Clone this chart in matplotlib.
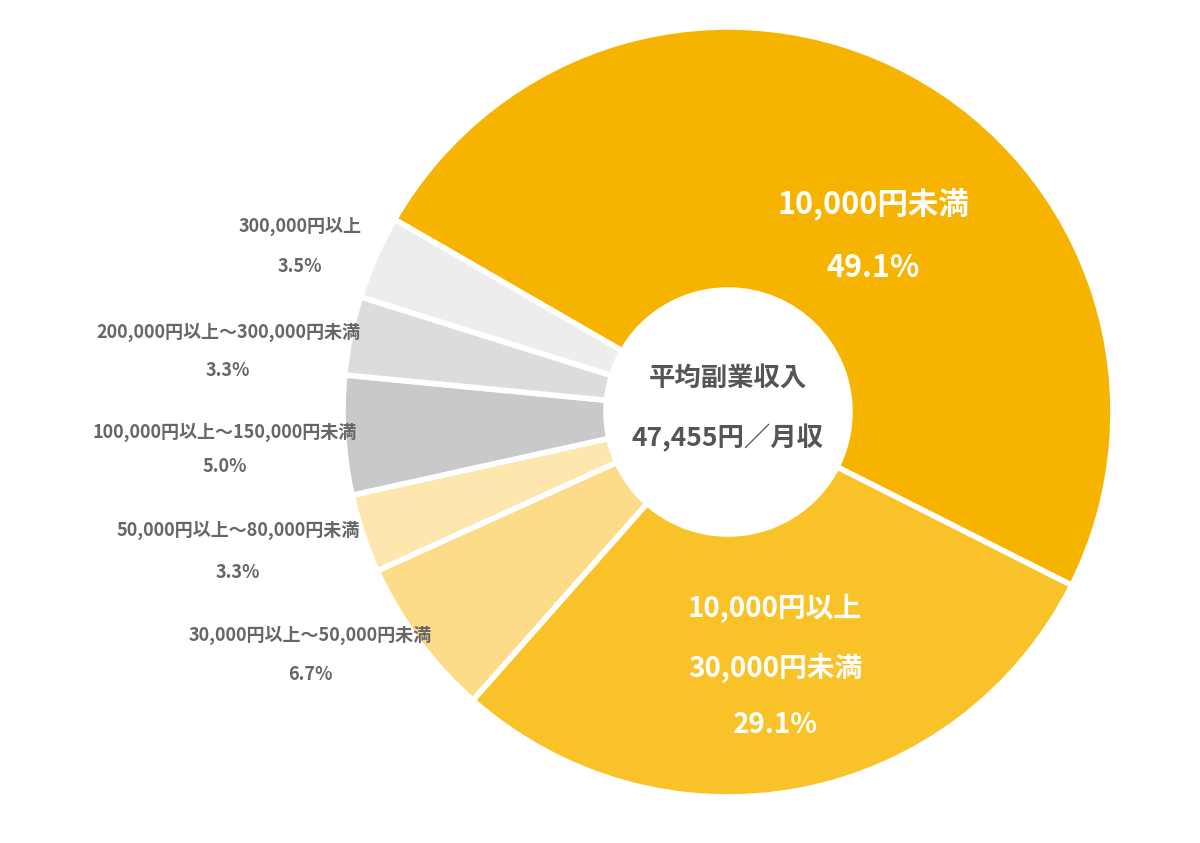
import matplotlib
matplotlib.use("Agg")
import matplotlib.pyplot as plt

plt.rcParams['font.family'] = ['Noto Sans CJK JP', 'DejaVu Sans']

categories = ["10,000円未満", "10,000円以上\n30,000円未満", "30,000円以上～50,000円未満",
              "50,000円以上～80,000円未満", "100,000円以上～150,000円未満",
              "200,000円以上～300,000円未満", "300,000円以上"]
values = [49.1, 29.1, 6.7, 3.3, 5.0, 3.3, 3.5]
colors = ["#F6B300", "#F8C228", "#FCDC88", "#FDE7AE", "#C9C9CC", "#DCDCDE", "#EDEDED"]

fig = plt.figure(figsize=(12, 8.43), dpi=100)
ax = fig.add_axes([0, 0, 1, 1])
ax.set_xlim(0, 1200); ax.set_ylim(0, 843); ax.set_aspect('equal'); ax.axis('off')

H = 843
cx, cy, R = 728, H - 412, 385
ax.pie(values, colors=colors, startangle=150, counterclock=False, center=(cx, cy),
       radius=R, wedgeprops=dict(width=R - 122, edgecolor='white', linewidth=4), frame=True)
ax.set_xlim(0, 1200); ax.set_ylim(0, 843); ax.axis('off')

# inside labels
ax.text(873, H - 205, categories[0], color='white', fontsize=22, fontweight='bold', ha='center', va='center')
ax.text(873, H - 268, f"{values[0]}%", color='white', fontsize=22, fontweight='bold', ha='center', va='center')
ax.text(775, H - 608, "10,000円以上", color='white', fontsize=20, fontweight='bold', ha='center', va='center')
ax.text(775, H - 668, "30,000円未満", color='white', fontsize=20, fontweight='bold', ha='center', va='center')
ax.text(775, H - 725, f"{values[1]}%", color='white', fontsize=20, fontweight='bold', ha='center', va='center')

# center
ax.text(728, H - 378, "平均副業収入", color='#555555', fontsize=19, fontweight='bold', ha='center', va='center')
ax.text(728, H - 438, "47,455円／月収", color='#555555', fontsize=19, fontweight='bold', ha='center', va='center')

# outside labels (gray)
outside = [(2, 310, 635, 675), (3, 238, 530, 572), (4, 225, 432, 467), (5, 228, 332, 370), (6, 300, 226, 266)]
for i, x, y1, y2 in outside:
    ax.text(x, H - y1, categories[i], color='#666666', fontsize=13, fontweight='bold', ha='center', va='center')
    ax.text(x, H - y2, f"{values[i]}%", color='#666666', fontsize=13, fontweight='bold', ha='center', va='center')

fig.savefig("out.png", dpi=100, facecolor='white')
